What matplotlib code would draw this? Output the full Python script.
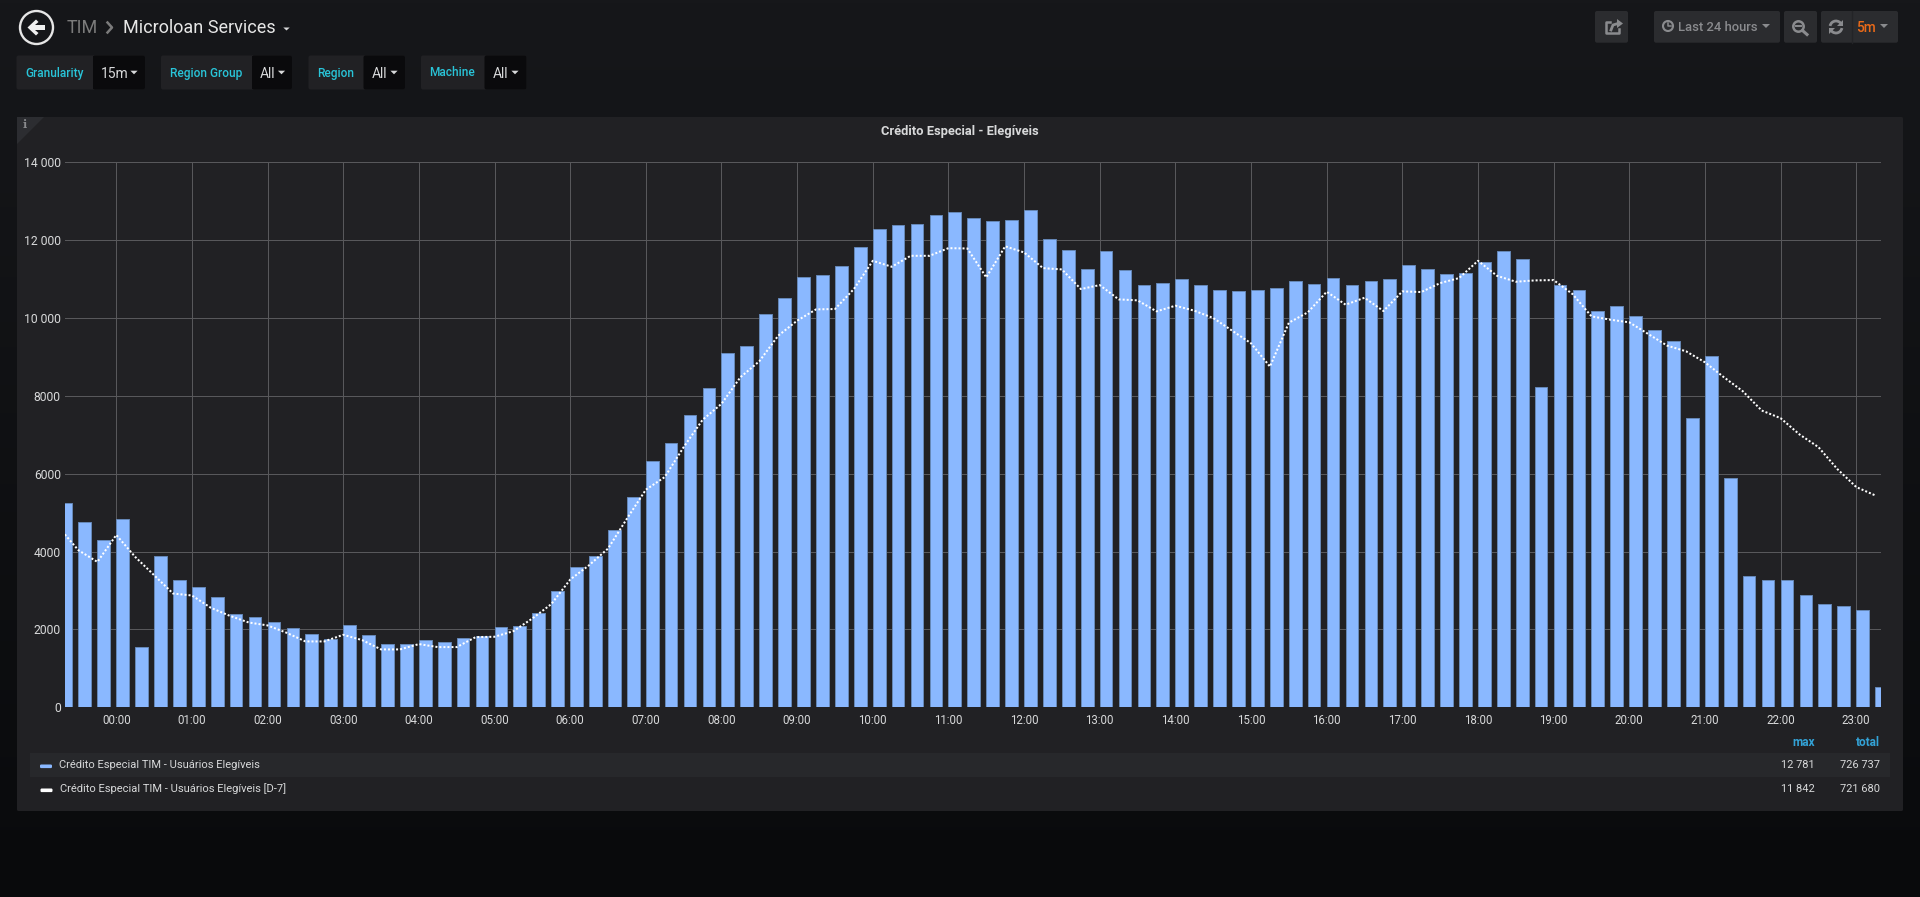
import numpy as np
import matplotlib
matplotlib.use("Agg")
import matplotlib.pyplot as plt
from matplotlib.patches import Rectangle, FancyBboxPatch, Circle, Polygon, Arc

plt.rcParams['font.family'] = ['Roboto', 'DejaVu Sans']

# ---------- data ----------
usuarios = [5239, 4769, 4291, 4838, 1547, 3880, 3282, 3103, 2846, 2385, 2308, 2188, 2043, 1880, 1761, 2103,
            1855, 1632, 1615, 1718, 1667, 1769, 1820, 2068, 2077, 2419, 2975, 3607, 3897, 4564, 5410, 6333,
            6778, 7513, 8205, 9094, 9282, 10094, 10513, 11043, 11103, 11333, 11821, 12282, 12385, 12419, 12641, 12726,
            12573, 12496, 12513, 12781, 12026, 11744, 11248, 11709, 11231, 10846, 10897, 11000, 10855, 10718, 10701, 10726,
            10761, 10957, 10863, 11026, 10855, 10957, 11000, 11359, 11256, 11128, 11154, 11444, 11718, 11513, 8231, 10838,
            10726, 10179, 10308, 10060, 9701, 9402, 7444, 9026, 5889, 3385, 3282, 3282, 2897, 2658, 2615, 2496, 530]
usuarios_d7 = [4598, 4034, 3735, 4427, 3863, 3393, 2923, 2872, 2556, 2350, 2179, 2103, 1915, 1692, 1692, 1863,
               1726, 1487, 1487, 1624, 1547, 1547, 1803, 1812, 1957, 2282, 2650, 3282, 3650, 4077, 4846, 5590,
               5915, 6684, 7385, 7795, 8479, 8889, 9547, 9932, 10222, 10231, 10744, 11470, 11316, 11598, 11598, 11795,
               11786, 11043, 11842, 11684, 11282, 11248, 10744, 10846, 10479, 10453, 10171, 10316, 10188, 10000, 9675, 9350,
               8752, 9880, 10145, 10675, 10342, 10521, 10179, 10684, 10667, 10897, 11026, 11470, 11086, 10932, 10966, 10974,
               10615, 10043, 9957, 9889, 9590, 9291, 9145, 8863, 8479, 8120, 7624, 7427, 7009, 6684, 6120, 5658, 5444]
first_bucket_hour = -0.75
bucket_hours = 0.25
hour_ticks = list(range(24))
hour_labels = [f"{h:02d}:00" for h in hour_ticks]
y_ticks = [0, 2000, 4000, 6000, 8000, 10000, 12000, 14000]
y_labels = ["0", "2000", "4000", "6000", "8000", "10 000", "12 000", "14 000"]
series_names = ["Crédito Especial TIM - Usuários Elegíveis", "Crédito Especial TIM - Usuários Elegíveis [D-7]"]
series_max = ["12 781", "11 842"]
series_total = ["726 737", "721 680"]

W, H = 1920, 897
fig = plt.figure(figsize=(W / 100, H / 100), dpi=100)

# ---------- page chrome, in pixel coordinates ----------
ov = fig.add_axes([0, 0, 1, 1], zorder=0)
ov.set_xlim(0, W)
ov.set_ylim(H, 0)
ov.axis('off')
grad = np.linspace(0, 1, 256).reshape(-1, 1, 1)
top = np.array([0x16, 0x17, 0x1a]) / 255
bot = np.array([0x09, 0x0a, 0x0c]) / 255
ov.imshow(top + (bot - top) * grad, extent=(0, W, H, 0), aspect='auto', zorder=0)
ov.set_xlim(0, W)
ov.set_ylim(H, 0)

TEXT = '#d8d9da'
TEAL = '#29c5d9'
BTN = '#2b2c2f'


def box(x0, y0, x1, y1, color, r=2, z=1, ec='none'):
    ov.add_patch(FancyBboxPatch((x0 + r, y0 + r), x1 - x0 - 2 * r, y1 - y0 - 2 * r,
                                boxstyle=f"round,pad={r},rounding_size={r}", fc=color, ec=ec, lw=0.8, zorder=z))


def caret(cx, cy, color, w=4.5, h=4, z=4):
    ov.add_patch(Polygon([(cx - w, cy - h / 2), (cx + w, cy - h / 2), (cx, cy + h / 2)], closed=True,
                         fc=color, ec='none', zorder=z))


def txt(x, y, s, size, color, ha='left', weight='normal', **kw):
    ov.text(x, y, s, fontsize=size, color=color, ha=ha, va='center', weight=weight, zorder=5, **kw)


# back button and breadcrumb
ov.add_patch(Circle((36.5, 27.5), 16.5, fc='none', ec='#e6e6e6', lw=1.7, zorder=4))
ov.add_patch(Polygon([(27.5, 27.5), (36, 19.5), (38.5, 22), (35, 25), (45, 25), (45, 30), (35, 30), (38.5, 33), (36, 35.5)],
                     closed=True, fc='#efefef', ec='none', zorder=4))
txt(67, 28, "TIM", 13, '#7b7b7b')
ov.plot([107.5, 112, 107.5], [22.5, 27.5, 32.5], color='#7b7b7b', lw=1.8, zorder=4)
txt(123, 28, "Microloan Services", 13, '#e6e6e6')
caret(286.5, 29, '#d8d9da', w=3.2, h=3)

# template variables
variables = [(16.5, 93, 145, 25, 101, 134, "Granularity", "15m"),
             (161, 252, 292, 169.5, 259.5, 281.5, "Region Group", "All"),
             (308.5, 363.5, 405, 317.5, 372, 394, "Region", "All"),
             (421, 484.5, 526.5, 429.5, 493, 515, "Machine", "All")]
for x0, xm, x1, xl, xv, xc, lab, val in variables:
    box(x0, 55.5, x1, 89.5, '#212124')
    box(xm, 55.5, x1, 89.5, '#0a0a0c')
    ov.add_patch(Rectangle((xm, 56), 4, 33, fc='#0a0a0c', ec='none', zorder=2))
    txt(xl, 73, lab, 8.6, TEAL, weight='medium')
    txt(xv, 74, val, 10, TEXT)
    caret(xc, 72.5, TEXT, w=3.6, h=3.6)

# top-right toolbar
for x0, x1 in [(1595, 1628), (1654, 1780), (1784, 1817), (1821, 1898)]:
    box(x0, 11, x1, 42.7, BTN)
ov.plot([1851.7, 1851.7], [11, 42.7], color='#232427', lw=1, zorder=3)
ICON = '#8a8b8e'
# share icon
ov.plot([1610, 1606, 1606, 1619, 1619], [22, 22, 33, 33, 29], color=ICON, lw=1.8, zorder=4)
ov.add_patch(Polygon([(1617, 19), (1623, 23.5), (1617, 28)], closed=True, fc=ICON, ec='none', zorder=4))
ov.plot([1611, 1613, 1618], [30, 25, 23.5], color=ICON, lw=2, zorder=4)
# clock icon
ov.add_patch(Circle((1668, 26), 5, fc='none', ec=ICON, lw=1.5, zorder=4))
ov.plot([1668, 1668, 1671], [23, 26.5, 26.5], color=ICON, lw=1.1, zorder=4)
txt(1677.5, 27.5, "Last 24 hours", 9.4, ICON, weight='medium')
caret(1766, 26, ICON, w=4, h=4)
# zoom-out icon
ov.add_patch(Circle((1798.5, 26.5), 5.2, fc='none', ec=ICON, lw=1.8, zorder=4))
ov.plot([1796, 1801], [26.5, 26.5], color=ICON, lw=1.4, zorder=4)
ov.plot([1802.5, 1807], [30.5, 34.5], color=ICON, lw=2.2, zorder=4)
# refresh icon
ov.add_patch(Arc((1836, 27), 12, 12, theta1=190, theta2=340, ec=ICON, lw=2, zorder=4))
ov.add_patch(Arc((1836, 27), 12, 12, theta1=10, theta2=160, ec=ICON, lw=2, zorder=4))
ov.add_patch(Polygon([(1843, 20), (1843, 26), (1837, 26)], closed=True, fc=ICON, ec='none', zorder=4))
ov.add_patch(Polygon([(1829, 34), (1829, 28), (1835, 28)], closed=True, fc=ICON, ec='none', zorder=4))
txt(1856.5, 27.5, "5m", 9.8, '#eb6a18', weight='medium')
caret(1884, 26, ICON, w=4, h=4)

# panel
box(17, 117, 1903, 811, '#212124', r=1.5)
ov.add_patch(Polygon([(17, 117), (44, 117), (17, 144)], closed=True, fc='#2c2d31', ec='none', zorder=2))
txt(24.5, 125, "i", 8, ICON, ha='center', weight='bold', family='DejaVu Serif')
txt(960, 131, "Crédito Especial - Elegíveis", 9.3, TEXT, ha='center', weight='bold')

# legend table
ov.add_patch(Rectangle((30, 753), 1860, 24, fc='#27282b', ec='none', zorder=2))
txt(1815, 742, "max", 8.6, '#33a2d6', ha='right', weight='bold')
txt(1880, 742, "total", 8.6, '#33a2d6', ha='right', weight='bold')
rows = [(764.5, 40, 59, '#8ab8ff'), (788.5, 40.5, 60, '#ffffff')]
for (y, xs, xt, col), name, mx, tot in zip(rows, series_names, series_max, series_total):
    box(xs, y, xs + 12, y + 3.6, col, r=1.2, z=4)
    txt(xt, y, name, 8.0, TEXT)
    txt(1815, y, mx, 7.9, TEXT, ha='right')
    txt(1880, y, tot, 7.9, TEXT, ha='right')

# ---------- chart ----------
L, R, T, B = 65, 1881, 162.3, 707.3
px_per_hour = 75.65
zero_px = 116.3
ax = fig.add_axes([L / W, 1 - B / H, (R - L) / W, (B - T) / H], zorder=2)
ax.patch.set_alpha(0)
t = first_bucket_hour + bucket_hours * np.arange(len(usuarios))
ax.set_xlim((L - zero_px) / px_per_hour, (R - zero_px) / px_per_hour)
ax.set_ylim(0, 14000)
ax.bar(t, usuarios, width=0.168, align='edge', color='#8ab8ff', edgecolor='#6688b8', linewidth=0.7, zorder=3)
ax.plot(t, usuarios_d7, color='#ffffff', lw=1.45, linestyle=(0, (1, 1)), zorder=4)
ax.set_xticks(hour_ticks, hour_labels)
ax.set_yticks(y_ticks, y_labels)
ax.grid(True, color='#58585b', lw=0.72, zorder=1)
ax.set_axisbelow(True)
ax.tick_params(length=0, colors=TEXT, labelsize=8.7)
ax.tick_params(axis='x', pad=5, labelsize=8.3)
ax.tick_params(axis='y', pad=3)
for s in ax.spines.values():
    s.set_visible(False)

fig.savefig("out.png", dpi=100, facecolor=fig.get_facecolor())
